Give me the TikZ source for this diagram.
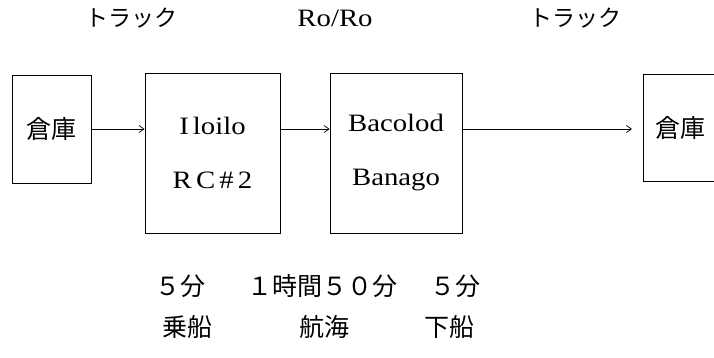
\documentclass[tikz,border=0pt]{standalone}
\usepackage{fontspec}
\setmainfont{Liberation Serif}[FakeStretch=1.15]
\newfontfamily\jp{Noto Sans CJK JP}
\usetikzlibrary{arrows.meta}
\begin{document}
\begin{tikzpicture}[x=1pt,y=-1pt,
  box/.style={draw,line width=0.9pt,inner sep=0pt,align=center},
  arr/.style={-{Straight Barb[length=5pt,width=7pt]},line width=0.7pt},
  lat/.style={font=\fontsize{25}{30}\selectfont},
  jpn/.style={font=\fontsize{25}{30}\selectfont\jp},
  jpt/.style={font=\fontsize{23}{28}\selectfont\jp}]
\useasboundingbox (0,0) rectangle (714,357);
\clip (0,0) rectangle (714,357);
\node[box,jpn,minimum width=79,minimum height=108] (w1) at (51.5,129) {倉庫};
\node[box,lat,minimum width=135,minimum height=160] (p1) at (212.5,153) {I\,loilo\\[24pt]R\,C\,\#\,2};
\node[box,lat,minimum width=132,minimum height=160] (p2) at (396,153) {Bacolod\\[24pt]Banago};
\node[box,jpn,minimum width=74,minimum height=107] (w2) at (680,127.5) {倉庫};
\coordinate (e3) at (632,129);
\draw[arr] (w1.east) -- (p1.west |- w1.east);
\draw[arr] (p1.east |- w1.east) -- (p2.west |- w1.east);
\draw[arr] (p2.east |- w1.east) -- (e3);
\node[jpt] (t1) at (131,18) {トラック};
\node[lat] (t2) at (335,18) {Ro/Ro};
\node[jpt] (t3) at (575,18) {トラック};
\node[jpn] (b1) at (180,286) {５分};
\node[jpn] (b2) at (322,286) {１時間５０分};
\node[jpn] (b3) at (455,286) {５分};
\node[jpn] (c1) at (187,327) {乗船};
\node[jpn] (c2) at (324,327) {航海};
\node[jpn] (c3) at (449,327) {下船};
\end{tikzpicture}
\end{document}
